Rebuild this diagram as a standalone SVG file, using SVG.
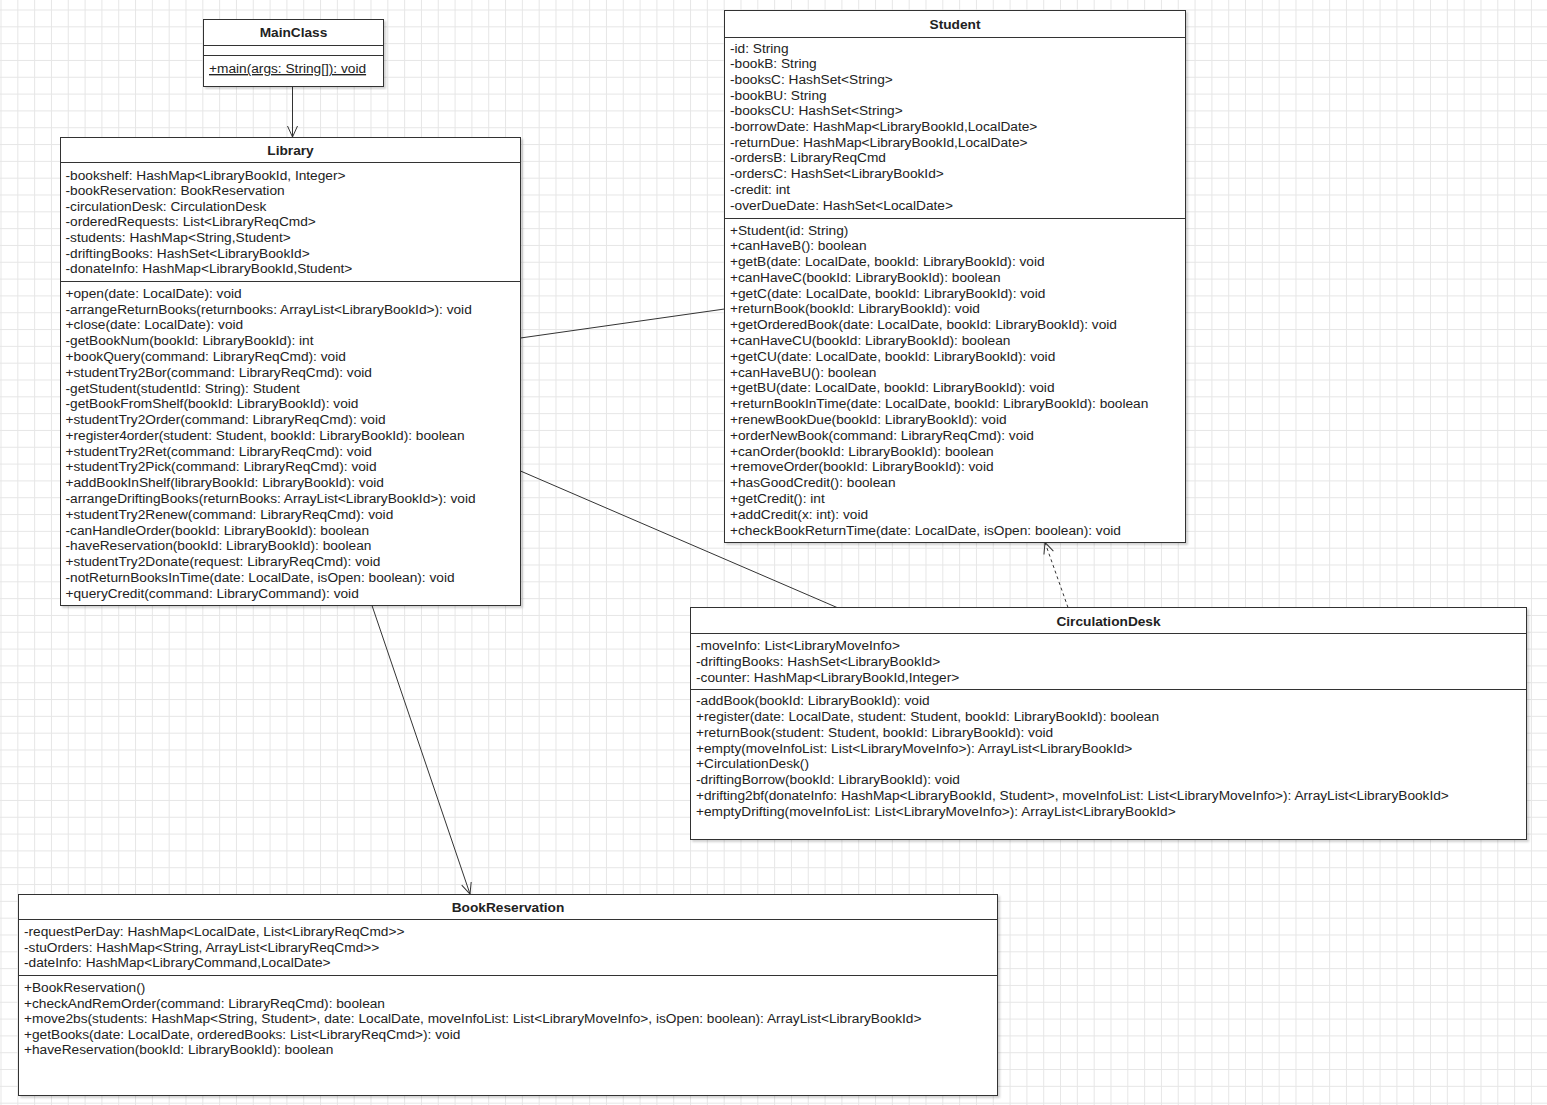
<svg xmlns="http://www.w3.org/2000/svg" width="1547" height="1105" viewBox="0 0 1547 1105">
<defs>
<style>
.box{fill:#fff;stroke:#333;stroke-width:1;filter:url(#sh)}
.dv{stroke:#333;stroke-width:1}
text{font-family:"Liberation Sans",Arial,sans-serif;font-size:13.7px;fill:#222}
.title{font-weight:bold;text-anchor:middle}
.conn{fill:none;stroke:#333;stroke-width:1}
.dash{stroke-dasharray:3 3}
</style>
<pattern id="grid" x="0.5" y="9.5" width="16.818" height="16.818" patternUnits="userSpaceOnUse">
<path d="M0.5,0 V16.818 M0,0.5 H16.818" fill="none" stroke="#e6e6e6" stroke-width="1"/>
</pattern>
<filter id="sh" x="-5%" y="-5%" width="110%" height="110%">
<feDropShadow dx="2" dy="2" stdDeviation="1" flood-color="#000" flood-opacity="0.18"/>
</filter>
<marker id="open" viewBox="-12 -6 13 12" refX="0" refY="0" markerWidth="13" markerHeight="12" markerUnits="userSpaceOnUse" orient="auto">
<path d="M-11,-5 L0,0 L-11,5" fill="none" stroke="#333" stroke-width="1"/>
</marker>
</defs>
<rect x="0" y="0" width="1547" height="1105" fill="#fff"/>
<rect x="0" y="0" width="1547" height="1105" fill="url(#grid)"/>

<g id="connectors">
<path class="conn" d="M292.5,86.5 L292.5,137" marker-end="url(#open)"/>
<path class="conn" d="M520.5,338 L724.5,309"/>
<path class="conn" d="M520.5,471 L837,607.5"/>
<path class="conn" d="M372,605.5 L470,894" marker-end="url(#open)"/>
<path class="conn dash" d="M1068,607.5 L1045,542.5" marker-end="url(#open)"/>
</g>

<g id="MainClass">
<rect class="box" x="203.5" y="19.5" width="180" height="67"/>
<line class="dv" x1="203.5" y1="45.5" x2="383.5" y2="45.5"/>
<line class="dv" x1="203.5" y1="55.5" x2="383.5" y2="55.5"/>
<text class="title" x="293.5" y="37">MainClass</text>
<text x="209" y="73" text-decoration="underline">+main(args: String[]): void</text>
</g>

<g id="Library">
<rect class="box" x="60.5" y="137.5" width="460" height="468"/>
<line class="dv" x1="60.5" y1="162.5" x2="520.5" y2="162.5"/>
<line class="dv" x1="60.5" y1="281.5" x2="520.5" y2="281.5"/>
<text class="title" x="290.5" y="155">Library</text>
<text x="65.5" y="179.5">
<tspan x="65.5">-bookshelf: HashMap&lt;LibraryBookId, Integer&gt;</tspan>
<tspan x="65.5" dy="15.6">-bookReservation: BookReservation</tspan>
<tspan x="65.5" dy="15.6">-circulationDesk: CirculationDesk</tspan>
<tspan x="65.5" dy="15.6">-orderedRequests: List&lt;LibraryReqCmd&gt;</tspan>
<tspan x="65.5" dy="15.6">-students: HashMap&lt;String,Student&gt;</tspan>
<tspan x="65.5" dy="15.6">-driftingBooks: HashSet&lt;LibraryBookId&gt;</tspan>
<tspan x="65.5" dy="15.6">-donateInfo: HashMap&lt;LibraryBookId,Student&gt;</tspan>
</text>
<text x="65.5" y="297.8">
<tspan x="65.5">+open(date: LocalDate): void</tspan>
<tspan x="65.5" dy="15.79">-arrangeReturnBooks(returnbooks: ArrayList&lt;LibraryBookId&gt;): void</tspan>
<tspan x="65.5" dy="15.79">+close(date: LocalDate): void</tspan>
<tspan x="65.5" dy="15.79">-getBookNum(bookId: LibraryBookId): int</tspan>
<tspan x="65.5" dy="15.79">+bookQuery(command: LibraryReqCmd): void</tspan>
<tspan x="65.5" dy="15.79">+studentTry2Bor(command: LibraryReqCmd): void</tspan>
<tspan x="65.5" dy="15.79">-getStudent(studentId: String): Student</tspan>
<tspan x="65.5" dy="15.79">-getBookFromShelf(bookId: LibraryBookId): void</tspan>
<tspan x="65.5" dy="15.79">+studentTry2Order(command: LibraryReqCmd): void</tspan>
<tspan x="65.5" dy="15.79">+register4order(student: Student, bookId: LibraryBookId): boolean</tspan>
<tspan x="65.5" dy="15.79">+studentTry2Ret(command: LibraryReqCmd): void</tspan>
<tspan x="65.5" dy="15.79">+studentTry2Pick(command: LibraryReqCmd): void</tspan>
<tspan x="65.5" dy="15.79">+addBookInShelf(libraryBookId: LibraryBookId): void</tspan>
<tspan x="65.5" dy="15.79">-arrangeDriftingBooks(returnBooks: ArrayList&lt;LibraryBookId&gt;): void</tspan>
<tspan x="65.5" dy="15.79">+studentTry2Renew(command: LibraryReqCmd): void</tspan>
<tspan x="65.5" dy="15.79">-canHandleOrder(bookId: LibraryBookId): boolean</tspan>
<tspan x="65.5" dy="15.79">-haveReservation(bookId: LibraryBookId): boolean</tspan>
<tspan x="65.5" dy="15.79">+studentTry2Donate(request: LibraryReqCmd): void</tspan>
<tspan x="65.5" dy="15.79">-notReturnBooksInTime(date: LocalDate, isOpen: boolean): void</tspan>
<tspan x="65.5" dy="15.79">+queryCredit(command: LibraryCommand): void</tspan>
</text>
</g>

<g id="Student">
<rect class="box" x="724.5" y="10.5" width="461" height="532"/>
<line class="dv" x1="724.5" y1="37.5" x2="1185.5" y2="37.5"/>
<line class="dv" x1="724.5" y1="218.5" x2="1185.5" y2="218.5"/>
<text class="title" x="955" y="28.5">Student</text>
<text x="730" y="52.8">
<tspan x="730">-id: String</tspan>
<tspan x="730" dy="15.67">-bookB: String</tspan>
<tspan x="730" dy="15.67">-booksC: HashSet&lt;String&gt;</tspan>
<tspan x="730" dy="15.67">-bookBU: String</tspan>
<tspan x="730" dy="15.67">-booksCU: HashSet&lt;String&gt;</tspan>
<tspan x="730" dy="15.67">-borrowDate: HashMap&lt;LibraryBookId,LocalDate&gt;</tspan>
<tspan x="730" dy="15.67">-returnDue: HashMap&lt;LibraryBookId,LocalDate&gt;</tspan>
<tspan x="730" dy="15.67">-ordersB: LibraryReqCmd</tspan>
<tspan x="730" dy="15.67">-ordersC: HashSet&lt;LibraryBookId&gt;</tspan>
<tspan x="730" dy="15.67">-credit: int</tspan>
<tspan x="730" dy="15.67">-overDueDate: HashSet&lt;LocalDate&gt;</tspan>
</text>
<text x="730" y="234.5">
<tspan x="730">+Student(id: String)</tspan>
<tspan x="730" dy="15.79">+canHaveB(): boolean</tspan>
<tspan x="730" dy="15.79">+getB(date: LocalDate, bookId: LibraryBookId): void</tspan>
<tspan x="730" dy="15.79">+canHaveC(bookId: LibraryBookId): boolean</tspan>
<tspan x="730" dy="15.79">+getC(date: LocalDate, bookId: LibraryBookId): void</tspan>
<tspan x="730" dy="15.79">+returnBook(bookId: LibraryBookId): void</tspan>
<tspan x="730" dy="15.79">+getOrderedBook(date: LocalDate, bookId: LibraryBookId): void</tspan>
<tspan x="730" dy="15.79">+canHaveCU(bookId: LibraryBookId): boolean</tspan>
<tspan x="730" dy="15.79">+getCU(date: LocalDate, bookId: LibraryBookId): void</tspan>
<tspan x="730" dy="15.79">+canHaveBU(): boolean</tspan>
<tspan x="730" dy="15.79">+getBU(date: LocalDate, bookId: LibraryBookId): void</tspan>
<tspan x="730" dy="15.79">+returnBookInTime(date: LocalDate, bookId: LibraryBookId): boolean</tspan>
<tspan x="730" dy="15.79">+renewBookDue(bookId: LibraryBookId): void</tspan>
<tspan x="730" dy="15.79">+orderNewBook(command: LibraryReqCmd): void</tspan>
<tspan x="730" dy="15.79">+canOrder(bookId: LibraryBookId): boolean</tspan>
<tspan x="730" dy="15.79">+removeOrder(bookId: LibraryBookId): void</tspan>
<tspan x="730" dy="15.79">+hasGoodCredit(): boolean</tspan>
<tspan x="730" dy="15.79">+getCredit(): int</tspan>
<tspan x="730" dy="15.79">+addCredit(x: int): void</tspan>
<tspan x="730" dy="15.79">+checkBookReturnTime(date: LocalDate, isOpen: boolean): void</tspan>
</text>
</g>

<g id="CirculationDesk">
<rect class="box" x="690.5" y="607.5" width="836" height="232"/>
<line class="dv" x1="690.5" y1="633.5" x2="1526.5" y2="633.5"/>
<line class="dv" x1="690.5" y1="689.5" x2="1526.5" y2="689.5"/>
<text class="title" x="1108.5" y="626">CirculationDesk</text>
<text x="696" y="650">
<tspan x="696">-moveInfo: List&lt;LibraryMoveInfo&gt;</tspan>
<tspan x="696" dy="16">-driftingBooks: HashSet&lt;LibraryBookId&gt;</tspan>
<tspan x="696" dy="16">-counter: HashMap&lt;LibraryBookId,Integer&gt;</tspan>
</text>
<text x="696" y="705">
<tspan x="696">-addBook(bookId: LibraryBookId): void</tspan>
<tspan x="696" dy="15.86">+register(date: LocalDate, student: Student, bookId: LibraryBookId): boolean</tspan>
<tspan x="696" dy="15.86">+returnBook(student: Student, bookId: LibraryBookId): void</tspan>
<tspan x="696" dy="15.86">+empty(moveInfoList: List&lt;LibraryMoveInfo&gt;): ArrayList&lt;LibraryBookId&gt;</tspan>
<tspan x="696" dy="15.86">+CirculationDesk()</tspan>
<tspan x="696" dy="15.86">-driftingBorrow(bookId: LibraryBookId): void</tspan>
<tspan x="696" dy="15.86">+drifting2bf(donateInfo: HashMap&lt;LibraryBookId, Student&gt;, moveInfoList: List&lt;LibraryMoveInfo&gt;): ArrayList&lt;LibraryBookId&gt;</tspan>
<tspan x="696" dy="15.86">+emptyDrifting(moveInfoList: List&lt;LibraryMoveInfo&gt;): ArrayList&lt;LibraryBookId&gt;</tspan>
</text>
</g>

<g id="BookReservation">
<rect class="box" x="18.5" y="894.5" width="979" height="201"/>
<line class="dv" x1="18.5" y1="919.5" x2="997.5" y2="919.5"/>
<line class="dv" x1="18.5" y1="975.5" x2="997.5" y2="975.5"/>
<text class="title" x="508" y="912">BookReservation</text>
<text x="24" y="936">
<tspan x="24">-requestPerDay: HashMap&lt;LocalDate, List&lt;LibraryReqCmd&gt;&gt;</tspan>
<tspan x="24" dy="15.6">-stuOrders: HashMap&lt;String, ArrayList&lt;LibraryReqCmd&gt;&gt;</tspan>
<tspan x="24" dy="15.6">-dateInfo: HashMap&lt;LibraryCommand,LocalDate&gt;</tspan>
</text>
<text x="24" y="992">
<tspan x="24">+BookReservation()</tspan>
<tspan x="24" dy="15.6">+checkAndRemOrder(command: LibraryReqCmd): boolean</tspan>
<tspan x="24" dy="15.6">+move2bs(students: HashMap&lt;String, Student&gt;, date: LocalDate, moveInfoList: List&lt;LibraryMoveInfo&gt;, isOpen: boolean): ArrayList&lt;LibraryBookId&gt;</tspan>
<tspan x="24" dy="15.6">+getBooks(date: LocalDate, orderedBooks: List&lt;LibraryReqCmd&gt;): void</tspan>
<tspan x="24" dy="15.6">+haveReservation(bookId: LibraryBookId): boolean</tspan>
</text>
</g>
</svg>
